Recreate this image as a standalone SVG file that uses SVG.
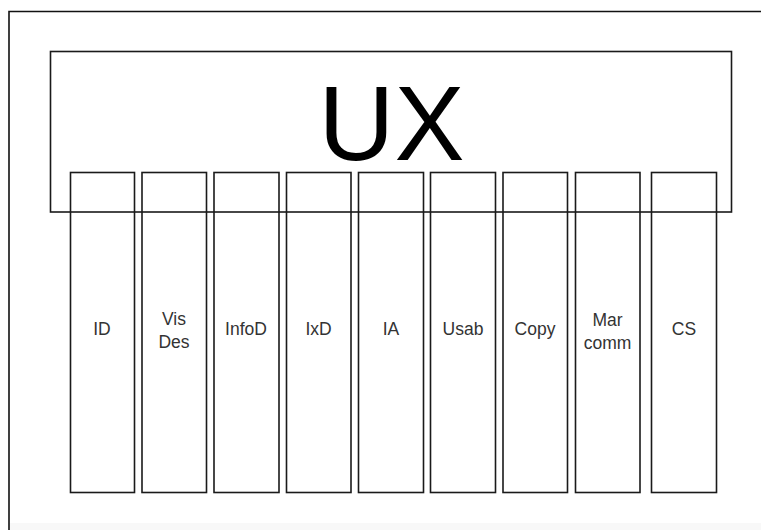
<svg xmlns="http://www.w3.org/2000/svg" width="761" height="530" viewBox="0 0 761 530">
<style>
.box{fill:none;stroke:#1a1a1a;stroke-width:1.6}
.lbl{font-family:"Liberation Sans",Arial,sans-serif;font-size:17.5px;fill:#333;text-anchor:middle}
.big{font-family:"Liberation Sans",Arial,sans-serif;font-size:105px;fill:#000;text-anchor:middle}
</style>
<rect x="0" y="0" width="761" height="530" fill="#fff"/>
<rect x="9" y="523" width="752" height="7" fill="#f8f8f8"/>
<path d="M9,530 V11.5 H761" fill="none" stroke="#111" stroke-width="1.6"/>
<g id="ux">
<rect class="box" x="50.5" y="51.5" width="681" height="160.5"/>
<text class="big" x="391.5" y="160">UX</text>
</g>
<g id="col-id"><rect class="box" x="70.5" y="172.5" width="64" height="320"/><text class="lbl" x="102" y="335">ID</text></g>
<g id="col-visdes"><rect class="box" x="142" y="172.5" width="64.5" height="320"/><text class="lbl" x="174" y="325">Vis</text><text class="lbl" x="174" y="348">Des</text></g>
<g id="col-infod"><rect class="box" x="214" y="172.5" width="65" height="320"/><text class="lbl" x="246" y="335">InfoD</text></g>
<g id="col-ixd"><rect class="box" x="286.5" y="172.5" width="64.5" height="320"/><text class="lbl" x="318.5" y="335">IxD</text></g>
<g id="col-ia"><rect class="box" x="358.5" y="172.5" width="65" height="320"/><text class="lbl" x="391" y="335">IA</text></g>
<g id="col-usab"><rect class="box" x="430.5" y="172.5" width="65" height="320"/><text class="lbl" x="463" y="335">Usab</text></g>
<g id="col-copy"><rect class="box" x="503" y="172.5" width="64.5" height="320"/><text class="lbl" x="535" y="335">Copy</text></g>
<g id="col-marcomm"><rect class="box" x="575.5" y="172.5" width="64.5" height="320"/><text class="lbl" x="607.5" y="326">Mar</text><text class="lbl" x="607.5" y="349">comm</text></g>
<g id="col-cs"><rect class="box" x="651.5" y="172.5" width="65" height="320"/><text class="lbl" x="684" y="335">CS</text></g>
<g id="connectors"></g>
</svg>
